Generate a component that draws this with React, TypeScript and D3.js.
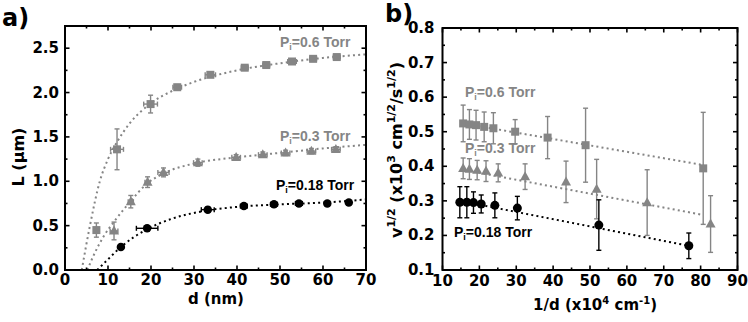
import React from "react";
import * as d3 from "d3";

const GRAY = "#858585";
const BLACK = "#000";

// ---------- Panel a data: L vs d ----------
const a06_d = [7.3, 12.1, 19.9, 26.1, 33.8, 41.8, 46.8, 52.8, 57.7, 63.2];
const a06_L = [0.45, 1.36, 1.87, 2.06, 2.2, 2.28, 2.31, 2.35, 2.38, 2.4];
const a06_Lerr = [0.08, 0.23, 0.1, 0.03, 0.02, 0.02, 0.02, 0.02, 0.02, 0.02];
const a06_derr = [0.6, 1.5, 1.6, 1.0, 1.2, 0.8, 0.8, 1.0, 0.8, 0.8];

const a03_d = [11.4, 15.3, 19.2, 22.9, 30.9, 39.8, 46.0, 51.3, 57.3, 63.0];
const a03_L = [0.44, 0.77, 0.99, 1.1, 1.21, 1.27, 1.3, 1.32, 1.34, 1.36];
const a03_Lerr = [0.1, 0.07, 0.06, 0.05, 0.04, 0.03, 0.03, 0.03, 0.03, 0.03];
const a03_derr = [0.9, 0.6, 0.6, 1.3, 1.0, 1.0, 1.0, 1.0, 1.0, 1.0];

const a018_d = [13.0, 19.1, 33.2, 41.6, 48.6, 54.4, 61.0, 66.0];
const a018_L = [0.26, 0.47, 0.68, 0.72, 0.74, 0.75, 0.75, 0.76];
const a018_Lerr = [0.02, 0.03, 0.03, 0.02, 0.02, 0.02, 0.02, 0.02];
const a018_derr = [0.3, 2.5, 1.5, 0.8, 0.8, 0.8, 0.5, 0.5];

// fit curves
const fit06_d = [3.9, 5.8, 8.1, 10, 12.2, 15, 20, 25, 30, 40, 50, 60, 70];
const fit06_L = [0, 0.5, 1.0, 1.25, 1.45, 1.65, 1.88, 2.02, 2.12, 2.25, 2.33, 2.39, 2.43];
const fit03_d = [5.2, 7, 9, 11.5, 15, 19, 23, 30, 40, 50, 60, 70];
const fit03_L = [0, 0.2, 0.38, 0.55, 0.76, 0.97, 1.09, 1.2, 1.27, 1.32, 1.37, 1.41];
const fit018_d = [7.5, 10, 13, 16, 19.5, 25, 33, 41, 50, 60, 70];
const fit018_L = [0, 0.12, 0.26, 0.37, 0.47, 0.58, 0.67, 0.715, 0.74, 0.76, 0.795];

// ---------- Panel b data: v^1/2 vs 1/d ----------
const b06_x = [15.6, 17.3, 19.1, 21.3, 23.8, 29.7, 38.5, 48.8, 80.7];
const b06_y = [0.524, 0.521, 0.519, 0.514, 0.51, 0.5, 0.483, 0.461, 0.394];
const b06_err = [0.053, 0.043, 0.043, 0.043, 0.045, 0.035, 0.061, 0.107, 0.162];

const b03_x = [15.6, 17.3, 19.4, 21.8, 25.1, 32.4, 43.5, 51.8, 65.5, 82.7];
const b03_y = [0.394, 0.392, 0.389, 0.386, 0.381, 0.37, 0.355, 0.334, 0.295, 0.233];
const b03_err = [0.03, 0.03, 0.028, 0.03, 0.026, 0.037, 0.06, 0.086, 0.095, 0.082];

const b018_x = [14.7, 16.6, 18.4, 20.5, 24.2, 30.3, 52.4, 76.8];
const b018_y = [0.296, 0.296, 0.295, 0.291, 0.287, 0.279, 0.23, 0.17];
const b018_err = [0.045, 0.045, 0.031, 0.026, 0.036, 0.034, 0.073, 0.037];

const bfit06_x = [15.6, 80.5];
const bfit06_y = [0.524, 0.404];
const bfit03_x = [15.6, 80.3];
const bfit03_y = [0.39, 0.26];
const bfit018_x = [14.7, 76.8];
const bfit018_y = [0.3, 0.17];

// ticks
const aXTicks = [0, 10, 20, 30, 40, 50, 60, 70];
const aYTicks = [0, 0.5, 1.0, 1.5, 2.0, 2.5];
const bXTicks = [10, 20, 30, 40, 50, 60, 70, 80, 90];
const bYTicks = [0.1, 0.2, 0.3, 0.4, 0.5, 0.6, 0.7, 0.8];

const TF = "'DejaVu Sans', sans-serif";
const LF = "'Liberation Sans', Arial, sans-serif";

type Scale = d3.ScaleLinear<number, number>;

function Frame({ x, y, xMinor, yMinor, xMajor, yMajor, xFmt, yFmt, xLabOff, yLabOff }: any) {
  const [x0, x1] = x.range();
  const [y0, y1] = y.range();
  const ticks: JSX.Element[] = [];
  xMinor.forEach((v: number, i: number) => {
    const px = x(v);
    const len = xMajor.includes(v) ? 4.5 : 2.5;
    ticks.push(<line key={"xb" + i} x1={px} x2={px} y1={y0} y2={y0 - len} stroke="#000" strokeWidth={1.6} />);
    ticks.push(<line key={"xt" + i} x1={px} x2={px} y1={y1} y2={y1 + len} stroke="#000" strokeWidth={1.6} />);
  });
  yMinor.forEach((v: number, i: number) => {
    const py = y(v);
    const len = yMajor.some((m: number) => Math.abs(m - v) < 1e-9) ? 4.5 : 2.5;
    ticks.push(<line key={"yl" + i} x1={x0} x2={x0 + len} y1={py} y2={py} stroke="#000" strokeWidth={1.6} />);
    ticks.push(<line key={"yr" + i} x1={x1} x2={x1 - len} y1={py} y2={py} stroke="#000" strokeWidth={1.6} />);
  });
  return (
    <g>
      <rect x={x0} y={y1} width={x1 - x0} height={y0 - y1} fill="none" stroke="#000" strokeWidth={2} />
      {ticks}
      {xMajor.map((v: number, i: number) => (
        <text key={"xl" + i} x={x(v)} y={y0 + xLabOff} textAnchor="middle" fontFamily={TF} fontWeight="bold" fontSize={15} fill="#000">
          {xFmt(v)}
        </text>
      ))}
      {yMajor.map((v: number, i: number) => (
        <text key={"yl" + i} x={x0 - yLabOff} y={y(v)} textAnchor="end" dominantBaseline="central" fontFamily={TF} fontWeight="bold" fontSize={15} fill="#000">
          {yFmt(v)}
        </text>
      ))}
    </g>
  );
}

function ErrBars({ x, y, xs, ys, yerr, xerr, color, cap = 2.5 }: any) {
  const els: JSX.Element[] = [];
  xs.forEach((xv: number, i: number) => {
    const px = x(xv);
    const py = y(ys[i]);
    if (yerr && yerr[i]) {
      const t = y(ys[i] + yerr[i]);
      const b = y(ys[i] - yerr[i]);
      els.push(<line key={"v" + i} x1={px} x2={px} y1={t} y2={b} stroke={color} strokeWidth={1.4} />);
      els.push(<line key={"vt" + i} x1={px - cap} x2={px + cap} y1={t} y2={t} stroke={color} strokeWidth={1.4} />);
      els.push(<line key={"vb" + i} x1={px - cap} x2={px + cap} y1={b} y2={b} stroke={color} strokeWidth={1.4} />);
    }
    if (xerr && xerr[i]) {
      const l = x(xv - xerr[i]);
      const r = x(xv + xerr[i]);
      els.push(<line key={"h" + i} x1={l} x2={r} y1={py} y2={py} stroke={color} strokeWidth={1.4} />);
      els.push(<line key={"hl" + i} x1={l} x2={l} y1={py - cap} y2={py + cap} stroke={color} strokeWidth={1.4} />);
      els.push(<line key={"hr" + i} x1={r} x2={r} y1={py - cap} y2={py + cap} stroke={color} strokeWidth={1.4} />);
    }
  });
  return <g>{els}</g>;
}

function Markers({ x, y, xs, ys, shape, color, size }: any) {
  return (
    <g>
      {xs.map((xv: number, i: number) => {
        const px = x(xv);
        const py = y(ys[i]);
        if (shape === "square")
          return <rect key={i} x={px - size / 2} y={py - size / 2} width={size} height={size} fill={color} />;
        if (shape === "circle") return <circle key={i} cx={px} cy={py} r={size / 2} fill={color} />;
        const h = size * 0.9;
        const p = `M${px},${py - h * 0.6}L${px + size / 2},${py + h * 0.4}L${px - size / 2},${py + h * 0.4}Z`;
        return <path key={i} d={p} fill={color} />;
      })}
    </g>
  );
}

function Curve({ x, y, xs, ys, color, clip, curve }: any) {
  const pts: [number, number][] = xs.map((v: number, i: number) => [v, ys[i]]);
  const gen = d3
    .line<[number, number]>()
    .x((d) => x(d[0]))
    .y((d) => y(d[1]))
    .curve(curve || d3.curveMonotoneX);
  return (
    <path d={gen(pts) || ""} fill="none" stroke={color} strokeWidth={2} strokeDasharray="2,3.2" clipPath={clip} />
  );
}

function PLabel({ x, y, val, color }: any) {
  return (
    <text x={x} y={y} fontFamily={LF} fontWeight="bold" fontSize={14} fill={color}>
      P
      <tspan fontSize={9} dy={3}>i</tspan>
      <tspan fontSize={14} dy={-3}>{"=" + val + " Torr"}</tspan>
    </text>
  );
}

export default function App() {
  const ax: Scale = d3.scaleLinear().domain([0, 70]).range([65, 366]);
  const ay: Scale = d3.scaleLinear().domain([0, 2.75]).range([270, 26]);
  const bx: Scale = d3.scaleLinear().domain([10, 90]).range([442.5, 737.5]);
  const by: Scale = d3.scaleLinear().domain([0.1, 0.8]).range([270, 28]);

  const aXMinor = d3.range(0, 70.01, 5);
  const aYMinor = d3.range(0, 2.751, 0.25);
  const bXMinor = d3.range(10, 90.01, 5);
  const bYMinor = d3.range(0.1, 0.8001, 0.05).map((v) => Math.round(v * 100) / 100);

  return (
    <svg width={748} height={322} style={{ position: "absolute", left: 0, top: 0, background: "#fff" }}>
      <defs>
        <clipPath id="clipA">
          <rect x={65} y={26} width={301} height={244} />
        </clipPath>
        <clipPath id="clipB">
          <rect x={442.5} y={28} width={295} height={242} />
        </clipPath>
      </defs>

      {/* Panel a */}
      <text x={2} y={26} fontFamily={TF} fontWeight="bold" fontSize={24}>a)</text>
      <Curve x={ax} y={ay} xs={fit06_d} ys={fit06_L} color={GRAY} clip="url(#clipA)" />
      <Curve x={ax} y={ay} xs={fit03_d} ys={fit03_L} color={GRAY} clip="url(#clipA)" />
      <Curve x={ax} y={ay} xs={fit018_d} ys={fit018_L} color={BLACK} clip="url(#clipA)" />
      <ErrBars x={ax} y={ay} xs={a06_d} ys={a06_L} yerr={a06_Lerr} xerr={a06_derr} color={GRAY} />
      <ErrBars x={ax} y={ay} xs={a03_d} ys={a03_L} yerr={a03_Lerr} xerr={a03_derr} color={GRAY} />
      <ErrBars x={ax} y={ay} xs={a018_d} ys={a018_L} yerr={a018_Lerr} xerr={a018_derr} color={BLACK} />
      <Markers x={ax} y={ay} xs={a06_d} ys={a06_L} shape="square" color={GRAY} size={8} />
      <Markers x={ax} y={ay} xs={a03_d} ys={a03_L} shape="triangle" color={GRAY} size={10} />
      <Markers x={ax} y={ay} xs={a018_d} ys={a018_L} shape="circle" color={BLACK} size={8.5} />
      <Frame x={ax} y={ay} xMinor={aXMinor} yMinor={aYMinor} xMajor={aXTicks} yMajor={aYTicks}
        xFmt={d3.format("d")} yFmt={d3.format(".1f")} xLabOff={15} yLabOff={6} />
      <PLabel x={280} y={47} val="0.6" color={GRAY} />
      <PLabel x={280} y={141} val="0.3" color={GRAY} />
      <PLabel x={276} y={190} val="0.18" color={BLACK} />
      <text x={216} y={304} textAnchor="middle" fontFamily={TF} fontWeight="bold" fontSize={15}>d (nm)</text>
      <text transform="translate(24,157) rotate(-90)" textAnchor="middle" fontFamily={TF} fontWeight="bold" fontSize={16}>
        L (µm)
      </text>

      {/* Panel b */}
      <text x={385} y={22} fontFamily={TF} fontWeight="bold" fontSize={24}>b)</text>
      <Curve x={bx} y={by} xs={bfit06_x} ys={bfit06_y} color={GRAY} clip="url(#clipB)" curve={d3.curveLinear} />
      <Curve x={bx} y={by} xs={bfit03_x} ys={bfit03_y} color={GRAY} clip="url(#clipB)" curve={d3.curveLinear} />
      <Curve x={bx} y={by} xs={bfit018_x} ys={bfit018_y} color={BLACK} clip="url(#clipB)" curve={d3.curveLinear} />
      <ErrBars x={bx} y={by} xs={b06_x} ys={b06_y} yerr={b06_err} color={GRAY} />
      <ErrBars x={bx} y={by} xs={b03_x} ys={b03_y} yerr={b03_err} color={GRAY} />
      <ErrBars x={bx} y={by} xs={b018_x} ys={b018_y} yerr={b018_err} color={BLACK} />
      <Markers x={bx} y={by} xs={b06_x} ys={b06_y} shape="square" color={GRAY} size={8} />
      <Markers x={bx} y={by} xs={b03_x} ys={b03_y} shape="triangle" color={GRAY} size={10} />
      <Markers x={bx} y={by} xs={b018_x} ys={b018_y} shape="circle" color={BLACK} size={9} />
      <Frame x={bx} y={by} xMinor={bXMinor} yMinor={bYMinor} xMajor={bXTicks} yMajor={bYTicks}
        xFmt={d3.format("d")} yFmt={d3.format(".1f")} xLabOff={16} yLabOff={8} />
      <PLabel x={465} y={97} val="0.6" color={GRAY} />
      <PLabel x={465} y={153} val="0.3" color={GRAY} />
      <PLabel x={454} y={237} val="0.18" color={BLACK} />
      <text x={595} y={310} textAnchor="middle" fontFamily={TF} fontWeight="bold" fontSize={15}>
        1/d (x10<tspan fontSize={10} dy={-6}>4</tspan>
        <tspan fontSize={15} dy={6}> cm</tspan>
        <tspan fontSize={10} dy={-6}>-1</tspan>
        <tspan fontSize={15} dy={6}>)</tspan>
      </text>
      <text transform="translate(402,150) rotate(-90)" textAnchor="middle" fontFamily={TF} fontWeight="bold" fontSize={16}>
        v<tspan fontSize={11} dy={-7}>1/2</tspan>
        <tspan fontSize={16} dy={7}> (x10</tspan>
        <tspan fontSize={11} dy={-7}>3</tspan>
        <tspan fontSize={16} dy={7}> cm</tspan>
        <tspan fontSize={11} dy={-7}>1/2</tspan>
        <tspan fontSize={16} dy={7}>/s</tspan>
        <tspan fontSize={11} dy={-7}>1/2</tspan>
        <tspan fontSize={16} dy={7}>)</tspan>
      </text>
    </svg>
  );
}
